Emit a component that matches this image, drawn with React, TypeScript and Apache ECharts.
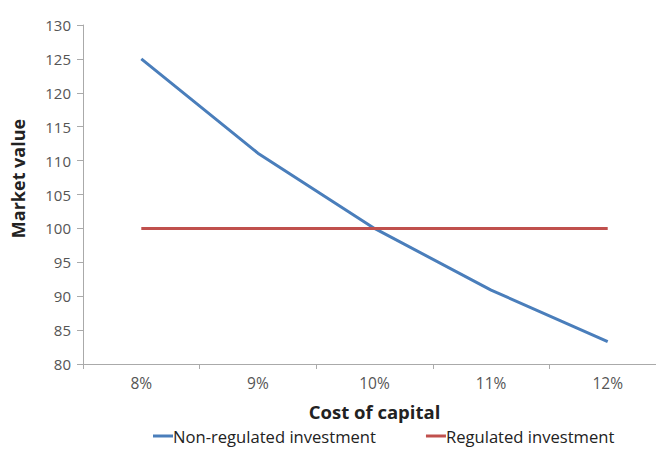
import React, { useEffect, useRef } from "react";
import * as echarts from "echarts";

const categories = ["8%", "9%", "10%", "11%", "12%"];
const nonRegulated = [125, 111.1, 100, 90.9, 83.3];
const regulated = [100, 100, 100, 100, 100];

const FONT = "'Open Sans', sans-serif";

export default function App() {
  const ref = useRef<HTMLDivElement>(null);
  useEffect(() => {
    if (!ref.current) return;
    const chart = echarts.init(ref.current, undefined, { renderer: "svg" });
    chart.setOption({
      animation: false,
      grid: { left: 83, right: 4, top: 25, bottom: 85, containLabel: false },
      legend: {
        bottom: 4,
        left: 153,
        padding: 0,
        itemGap: 50,
        itemWidth: 20,
        itemHeight: 3,
        icon: "rect",
        textStyle: {
          fontFamily: FONT,
          fontSize: 16.6,
          lineHeight: 18,
          color: "#222",
          padding: [0, 0, 0, -5],
        },
        data: ["Non-regulated investment", "Regulated investment"],
      },
      xAxis: {
        type: "category",
        data: categories,
        boundaryGap: true,
        name: "Cost of capital",
        nameLocation: "middle",
        nameGap: 38,
        nameTextStyle: { fontFamily: FONT, fontSize: 18.5, fontWeight: "bold", color: "#222" },
        axisLine: { lineStyle: { color: "#aaa", width: 1 } },
        axisTick: { show: true, length: 5, lineStyle: { color: "#aaa" } },
        axisLabel: { fontFamily: FONT, fontSize: 15.5, color: "#555", margin: 11 },
        splitLine: { show: false },
      },
      yAxis: {
        type: "value",
        min: 80,
        max: 130,
        interval: 5,
        name: "Market value",
        nameLocation: "middle",
        nameGap: 56,
        nameRotate: 90,
        nameTextStyle: {
          fontFamily: FONT,
          fontSize: 18,
          fontWeight: "bold",
          color: "#222",
          padding: [0, 0, 0, 32],
        },
        axisLine: { show: true, lineStyle: { color: "#aaa", width: 1 } },
        axisTick: { show: true, length: 6, lineStyle: { color: "#aaa" } },
        axisLabel: { fontFamily: FONT, fontSize: 15, color: "#555", margin: 12 },
        splitLine: { show: false },
      },
      series: [
        {
          name: "Non-regulated investment",
          type: "line",
          data: nonRegulated,
          symbol: "none",
          lineStyle: { color: "#4a7ebb", width: 3 },
          itemStyle: { color: "#4a7ebb" },
        },
        {
          name: "Regulated investment",
          type: "line",
          data: regulated,
          symbol: "none",
          lineStyle: { color: "#c0504d", width: 3 },
          itemStyle: { color: "#c0504d" },
        },
      ],
    });
    return () => chart.dispose();
  }, []);
  return (
    <div
      ref={ref}
      style={{ position: "absolute", left: 0, top: 0, width: 670, height: 449, background: "#fff" }}
    />
  );
}
